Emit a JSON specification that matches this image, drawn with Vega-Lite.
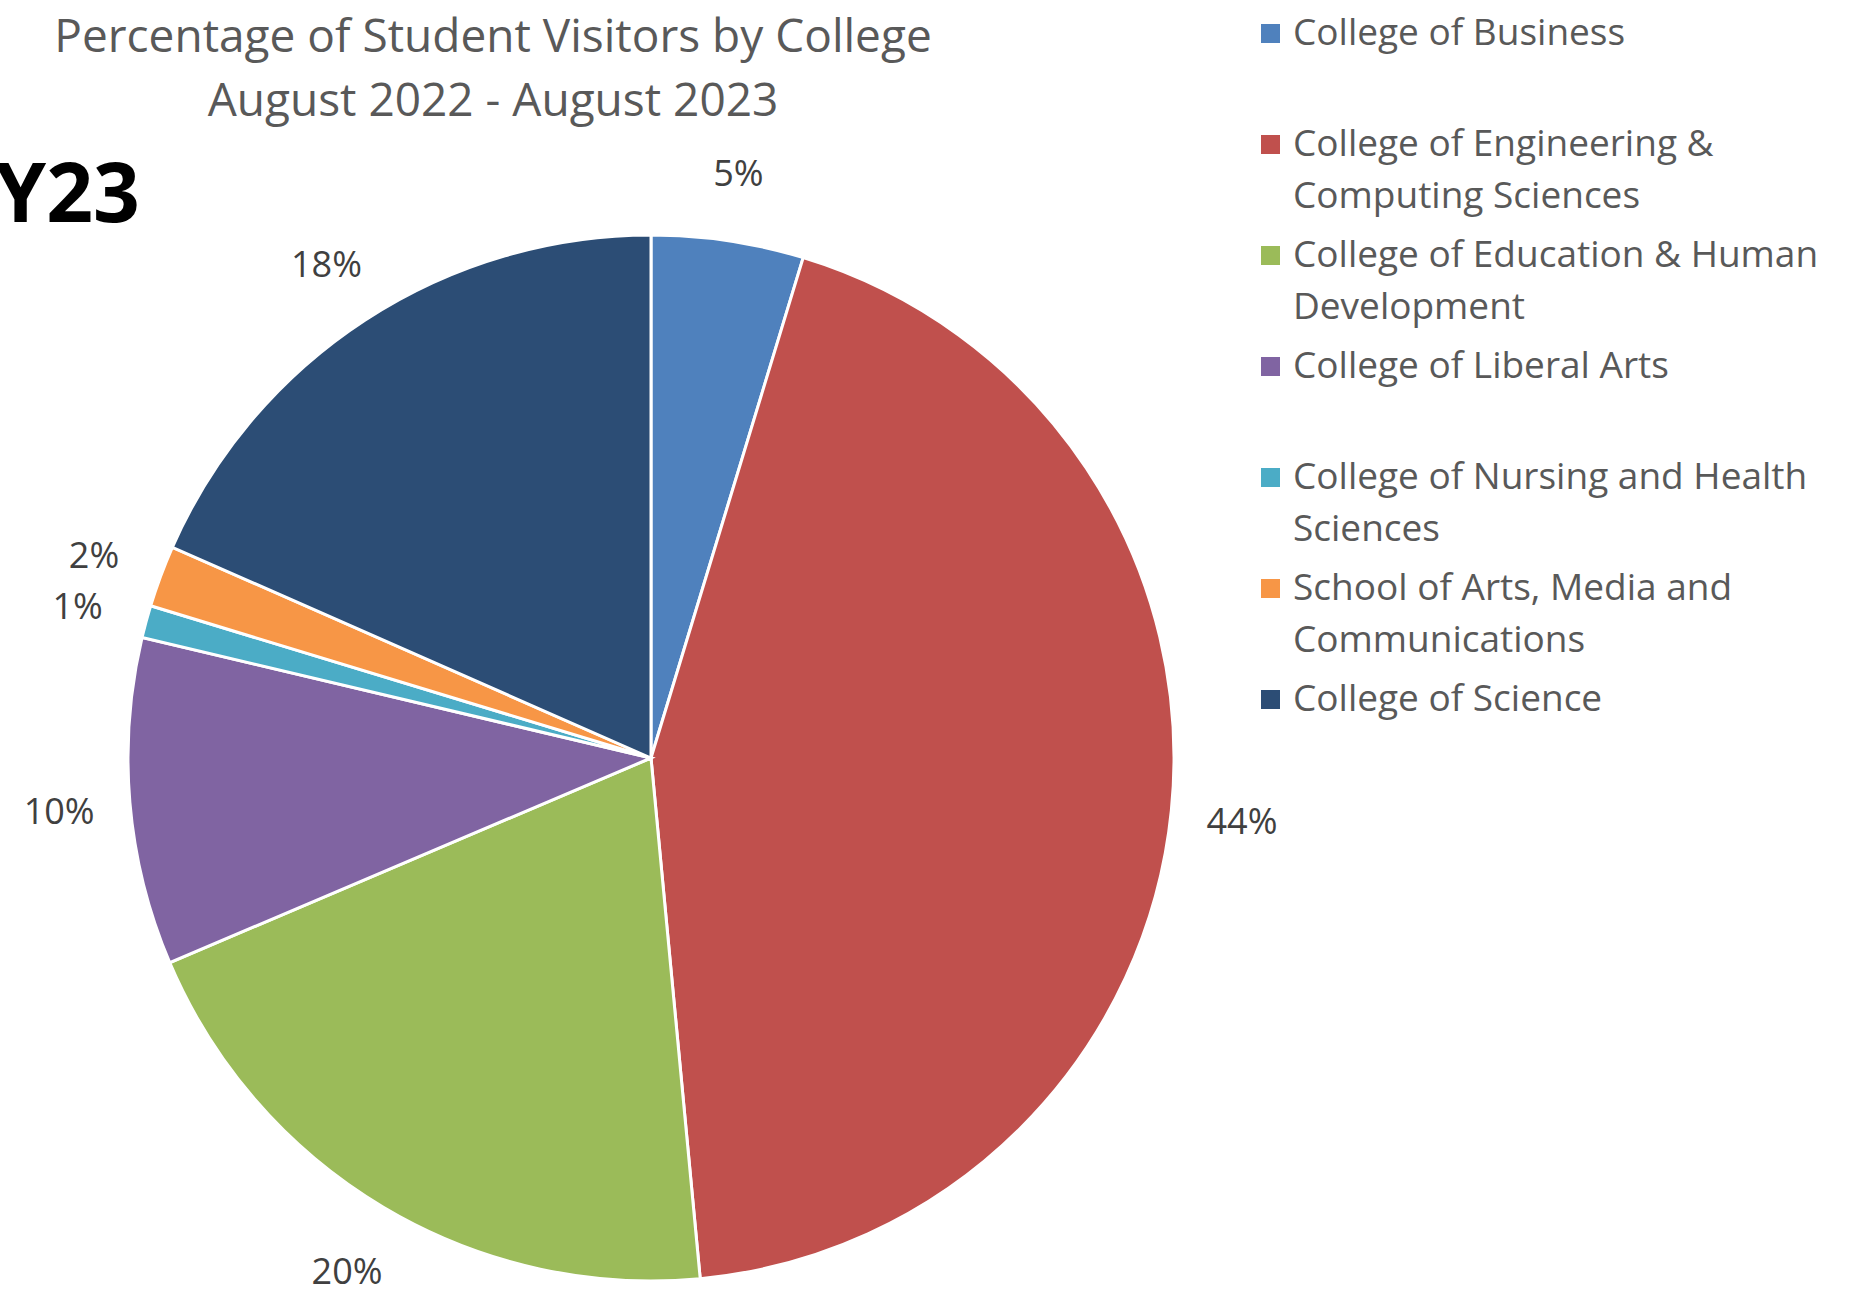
{
  "$schema": "https://vega.github.io/schema/vega-lite/v6.json",
  "autosize": {"type": "none"},
  "width": 1302,
  "height": 1078,
  "padding": {"left": 0, "top": 219, "right": 561, "bottom": 0},
  "background": "white",
  "config": {
    "view": {"stroke": null},
    "font": "Open Sans",
    "style": {"guide-label": {"lineHeight": 52}}
  },
  "title": {
    "text": ["Percentage of Student Visitors by College", "August 2022 - August 2023"],
    "fontSize": 46,
    "fontWeight": "normal",
    "color": "#595959",
    "font": "Open Sans",
    "lineHeight": 64,
    "anchor": "middle",
    "frame": "group",
    "dx": -158,
    "baseline": "bottom",
    "offset": -157
  },
  "data": {
    "values": [
      {"college": "College of Business", "share": 0.047, "rank": 1},
      {"college": "College of Engineering & Computing Sciences", "share": 0.438, "rank": 2},
      {"college": "College of Education & Human Development", "share": 0.201, "rank": 3},
      {"college": "College of Liberal Arts", "share": 0.101, "rank": 4},
      {"college": "College of Nursing and Health Sciences", "share": 0.010, "rank": 5},
      {"college": "School of Arts, Media and Communications", "share": 0.019, "rank": 6},
      {"college": "College of Science", "share": 0.184, "rank": 7}
    ]
  },
  "layer": [
    {
      "mark": {"type": "arc", "outerRadius": 523, "stroke": "white", "strokeWidth": 3},
      "encoding": {
        "theta": {"field": "share", "type": "quantitative", "stack": true},
        "order": {"field": "rank", "type": "quantitative"},
        "color": {
          "field": "college",
          "type": "nominal",
          "scale": {
            "domain": [
              "College of Business",
              "College of Engineering & Computing Sciences",
              "College of Education & Human Development",
              "College of Liberal Arts",
              "College of Nursing and Health Sciences",
              "School of Arts, Media and Communications",
              "College of Science"
            ],
            "range": ["#4F81BD", "#C0504D", "#9BBB59", "#8064A2", "#4BACC6", "#F79646", "#2C4D75"]
          },
          "legend": {
            "title": null,
            "orient": "none",
            "legendX": 1252,
            "legendY": -204,
            "symbolType": "square",
            "symbolSize": 360,
            "symbolStrokeWidth": 0,
            "symbolOpacity": 1,
            "labelFontSize": 37,
            "labelFont": "Open Sans",
            "labelColor": "#595959",
            "labelLimit": 1000,
            "labelOffset": 4,
            "labelBaseline": "middle",
            "rowPadding": 21,
            "padding": 0,
            "labelExpr": "datum.label == 'College of Engineering & Computing Sciences' ? ['College of Engineering &', 'Computing Sciences'] : datum.label == 'College of Education & Human Development' ? ['College of Education & Human', 'Development'] : datum.label == 'College of Nursing and Health Sciences' ? ['College of Nursing and Health', 'Sciences'] : datum.label == 'School of Arts, Media and Communications' ? ['School of Arts, Media and', 'Communications'] : [datum.label, '']"
          }
        }
      }
    },
    {
      "mark": {"type": "text", "radius": 594, "fontSize": 36, "color": "#404040", "font": "Open Sans", "align": "center", "baseline": "middle", "dy": 5},
      "encoding": {
        "theta": {"field": "share", "type": "quantitative", "stack": true},
        "order": {"field": "rank", "type": "quantitative"},
        "text": {"field": "share", "type": "quantitative", "format": ".0%"}
      }
    },
    {
      "data": {"values": [{"note": "FY23"}]},
      "mark": {"type": "text", "align": "left", "baseline": "alphabetic", "fontSize": 82, "fontWeight": "bold", "color": "black", "font": "Open Sans"},
      "encoding": {
        "text": {"field": "note", "type": "nominal"},
        "x": {"value": -50},
        "y": {"value": 3}
      }
    }
  ]
}
